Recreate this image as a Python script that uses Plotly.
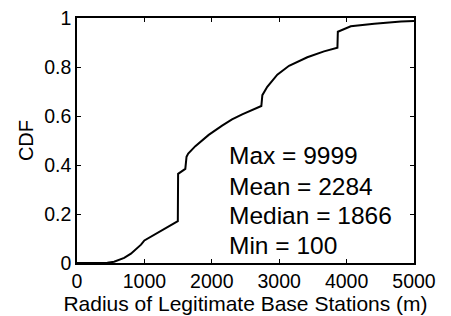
import plotly.graph_objects as go

radius_m = [0, 100, 450, 550, 650, 700, 800, 850, 950, 1000, 1050, 1186, 1335, 1496,
            1500, 1607, 1625, 1650, 1756, 1954, 2153, 2300, 2451, 2600, 2735,
            2750, 2823, 2972, 3146, 3417, 3665, 3864,
            3870, 4062, 4410, 4807, 5000]
cdf = [0, 0, 0.001, 0.005, 0.014, 0.021, 0.038, 0.05, 0.075, 0.092, 0.1, 0.12, 0.144, 0.171,
       0.364, 0.384, 0.434, 0.447, 0.477, 0.523, 0.561, 0.586, 0.607, 0.625, 0.641,
       0.685, 0.719, 0.769, 0.805, 0.84, 0.864, 0.879,
       0.944, 0.966, 0.977, 0.986, 0.988]

stat_labels = ["Max = 9999", "Mean = 2284", "Median = 1866", "Min = 100"]
stat_y = [0.438, 0.311, 0.192, 0.072]
stat_x = 2228

x_ticks = [0, 1000, 2000, 3000, 4000, 5000]
y_ticks = [0, 0.2, 0.4, 0.6, 0.8, 1]
y_tick_text = ["0", "0.2", "0.4", "0.6", "0.8", "1"]

font_family = "Liberation Sans, Arial, sans-serif"

fig = go.Figure()
fig.add_trace(go.Scatter(x=radius_m, y=cdf, mode="lines",
                         line=dict(color="black", width=2), showlegend=False,
                         hoverinfo="skip"))

for txt, yy in zip(stat_labels, stat_y):
    fig.add_annotation(x=stat_x, y=yy, xref="x", yref="y", text=txt,
                       showarrow=False, xanchor="left", yanchor="middle",
                       font=dict(family=font_family, size=24.5, color="black"))

axis_common = dict(showgrid=False, zeroline=False, showline=True, linecolor="black",
                   linewidth=1.5, mirror="ticks", ticks="inside", ticklen=4,
                   tickcolor="black", tickwidth=1, ticklabeloverflow="allow",
                   tickfont=dict(family=font_family, size=19.5, color="black"))

fig.update_xaxes(range=[0, 5000], tickvals=x_ticks, ticktext=[str(v) for v in x_ticks],
                 title=dict(text="Radius of Legitimate Base Stations (m)",
                            font=dict(family=font_family, size=21, color="black"),
                            standoff=2),
                 **axis_common)
fig.update_yaxes(range=[0, 1.0001], tickvals=y_ticks, ticktext=y_tick_text,
                 title=dict(text="CDF", font=dict(family=font_family, size=20, color="black"),
                            standoff=5),
                 **axis_common)

fig.update_layout(width=451, height=316, margin=dict(l=77, r=37, t=7, b=52),
                  paper_bgcolor="white", plot_bgcolor="white")

fig.write_html("out.html", config={"displayModeBar": False},
               post_script="document.body.style.margin='0';document.body.style.padding='0';")
